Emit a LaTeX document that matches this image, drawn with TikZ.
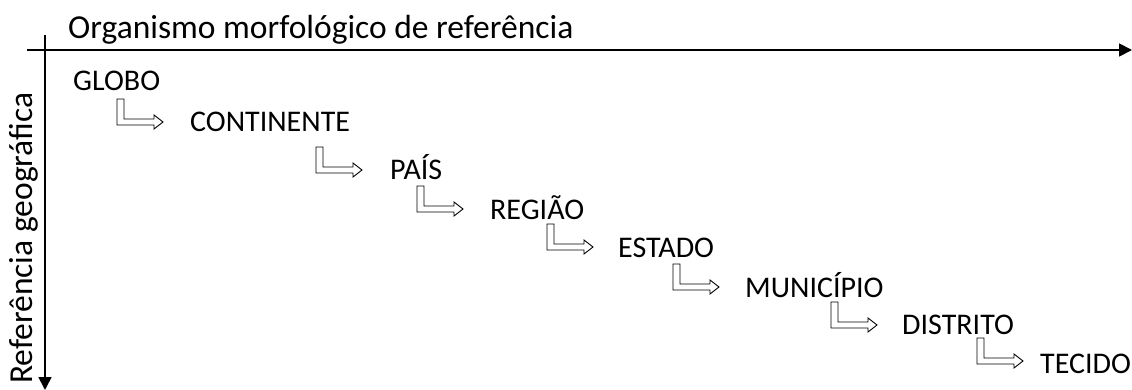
\documentclass[tikz,border=0pt]{standalone}
\usepackage{fontspec}
\setmainfont{Carlito}
\usetikzlibrary{arrows.meta,calc}
\begin{document}
\begin{tikzpicture}[x=1pt, y=-1pt,
   axis/.style={line width=1.8pt, -{Triangle[length=13pt,width=13pt]}},
   level/.style={anchor=base west, inner sep=0pt, font=\fontsize{30}{32}\selectfont},
   axislabel/.style={anchor=base west, inner sep=0pt, font=\fontsize{33.5}{36}\selectfont},
   pics/bent/.style={code={
     \draw[line width=0.9pt, line join=miter]
        (-46,-23) -- (-46,3) -- (-9,3) -- (-9,7) -- (0,0) -- (-9,-7)
        -- (-9,-3) -- (-39,-3) -- (-39,-23) -- cycle;}}]

\useasboundingbox (0,0) rectangle (1132,390);

% axes
\coordinate (hstart) at (27,50);
\coordinate (hend) at (1132,50);
\coordinate (vstart) at (45,35);
\coordinate (vend) at (45,390);
\draw[axis] (hstart) -- (hend);
\draw[axis] (vstart) -- (vend);

\node[axislabel] (organismo) at (68,39) {Organismo morfológico de referência};
\node[axislabel, rotate=90] (referencia) at (32,384) {Referência geográfica};

% levels
\node[level] (globo)      at (73,91)    {GLOBO};
\node[level] (continente) at (190,132)  {CONTINENTE};
\node[level] (pais)       at (390,180)  {PAÍS};
\node[level] (regiao)     at (490,219)  {REGIÃO};
\node[level] (estado)     at (618,257)  {ESTADO};
\node[level] (municipio)  at (745,297)  {MUNICÍPIO};
\node[level] (distrito)   at (902,334)  {DISTRITO};
\node[level] (tecido)     at (1040,373) {TECIDO};

% bent arrows
\pic at ($(continente.base west)+(-27,-10)$) {bent};
\pic at ($(pais.base west)+(-28,-10)$) {bent};
\pic at ($(regiao.base west)+(-27,-10)$) {bent};
\pic at ($(estado.base west)+(-25,-10)$) {bent};
\pic at ($(municipio.base west)+(-26,-10)$) {bent};
\pic at ($(distrito.base west)+(-25,-9)$) {bent};
\pic at ($(tecido.base west)+(-17,-12)$) {bent};

\end{tikzpicture}
\end{document}
